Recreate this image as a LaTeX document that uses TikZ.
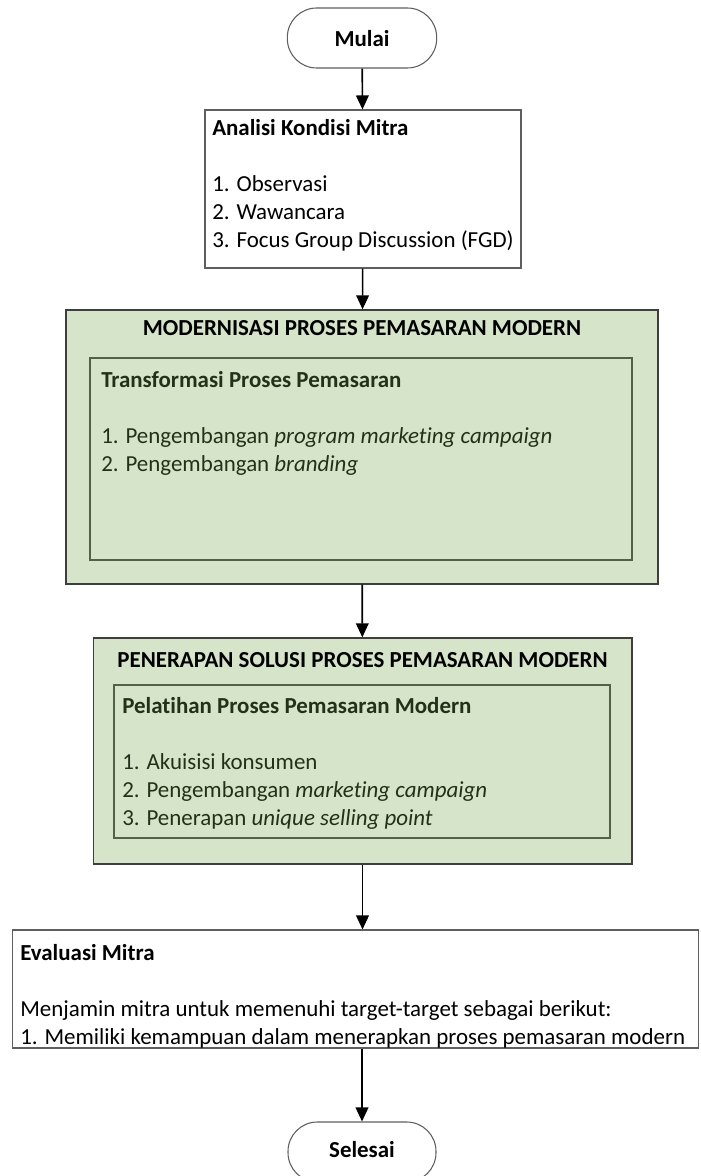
\documentclass[tikz,border=0pt]{standalone}
\usepackage{fontspec}
\setmainfont[Ligatures={NoCommon,NoContextual},Contextuals=NoAlternate]{Carlito}
\usepackage{tikz}
\usetikzlibrary{arrows.meta}

\definecolor{daun}{RGB}{214,229,201}
\definecolor{garisluar}{RGB}{62,62,62}
\definecolor{garisdalam}{RGB}{82,98,72}
\definecolor{tekshijau}{RGB}{36,48,26}
\definecolor{garisabu}{RGB}{95,95,95}

\tikzset{
  teks/.style={anchor=north west,inner sep=0pt,align=left,
    font=\fontsize{17.2}{21}\selectfont},
  judul/.style={anchor=north,inner sep=0pt,
    font=\fontsize{17.2}{21}\selectfont\bfseries},
  terminal/.style={draw=garisabu,line width=0.8pt,fill=white,
    rounded corners=22pt,inner sep=0pt},
  kotak/.style={draw=garisabu,line width=0.8pt,fill=white,inner sep=0pt},
  hijauluar/.style={draw=garisluar,line width=1pt,fill=daun,inner sep=0pt},
  hijaudalam/.style={draw=garisdalam,line width=1pt,fill=daun,inner sep=0pt},
  panah/.style={line width=1.2pt,-{Triangle[length=10.5pt,width=9.5pt]}}
}

\begin{document}
\begin{tikzpicture}[x=0.75pt,y=-0.75pt]
\useasboundingbox (0,0) rectangle (700,1176);

% kotak-kotak
\node[terminal,minimum width=112pt,minimum height=45pt] (mulai) at (362,38) {};
\node[kotak,minimum width=237pt,minimum height=118.5pt] (analisis) at (363,189) {};
\node[hijauluar,minimum width=444pt,minimum height=205.5pt] (modern) at (362,447) {};
\node[hijaudalam,minimum width=406.5pt,minimum height=151.5pt] (transformasi) at (361,459) {};
\node[hijauluar,minimum width=404pt,minimum height=169.5pt] (penerapan) at (362.5,751) {};
\node[hijaudalam,minimum width=372pt,minimum height=114.75pt] (pelatihan) at (362,761.5) {};
\node[kotak,minimum width=515pt,minimum height=88.5pt] (evaluasi) at (355.5,989) {};
\node[terminal,minimum width=111pt,minimum height=45pt] (selesai) at (362,1152) {};

% teks
\node[judul,anchor=base] (tmulai) at (362,47) {Mulai};
\node[teks] (tanalisis) at (212,115.5) {\strut\textbf{Analisi Kondisi Mitra}\\
  \\
  1. Observasi\\
  2. Wawancara\\
  3. Focus Group Discussion (FGD)};
\node[judul,anchor=base] (tmodern) at (362,336) {MODERNISASI PROSES PEMASARAN MODERN};
\node[teks,text=tekshijau] (ttransformasi) at (101,367.5) {\strut\textbf{Transformasi Proses Pemasaran}\\
  \\
  1. Pengembangan \textit{program marketing campaign}\\
  2. Pengembangan \textit{branding}};
\node[judul,anchor=base] (tpenerapan) at (362.5,667) {PENERAPAN SOLUSI PROSES PEMASARAN MODERN};
\node[teks,text=tekshijau] (tpelatihan) at (122,693.5) {\strut\textbf{Pelatihan Proses Pemasaran Modern}\\
  \\
  1. Akuisisi konsumen\\
  2. Pengembangan \textit{marketing campaign}\\
  3. Penerapan \textit{unique selling point}};
\node[teks] (tevaluasi) at (20,940.5) {\strut\textbf{Evaluasi Mitra}\\
  \\
  Menjamin mitra untuk memenuhi target-target sebagai berikut:\\
  1. Memiliki kemampuan dalam menerapkan proses pemasaran modern};
\node[judul,anchor=base] (tselesai) at (362,1157) {Selesai};

% panah
\draw[panah] (mulai) -- (analisis);
\draw[panah] (analisis) -- (modern);
\draw[panah] (modern) -- (penerapan);
\draw[panah] (penerapan.south) -- (penerapan.south |- evaluasi.north);
\draw[panah] (selesai.north |- evaluasi.south) -- (selesai);

\end{tikzpicture}
\end{document}
